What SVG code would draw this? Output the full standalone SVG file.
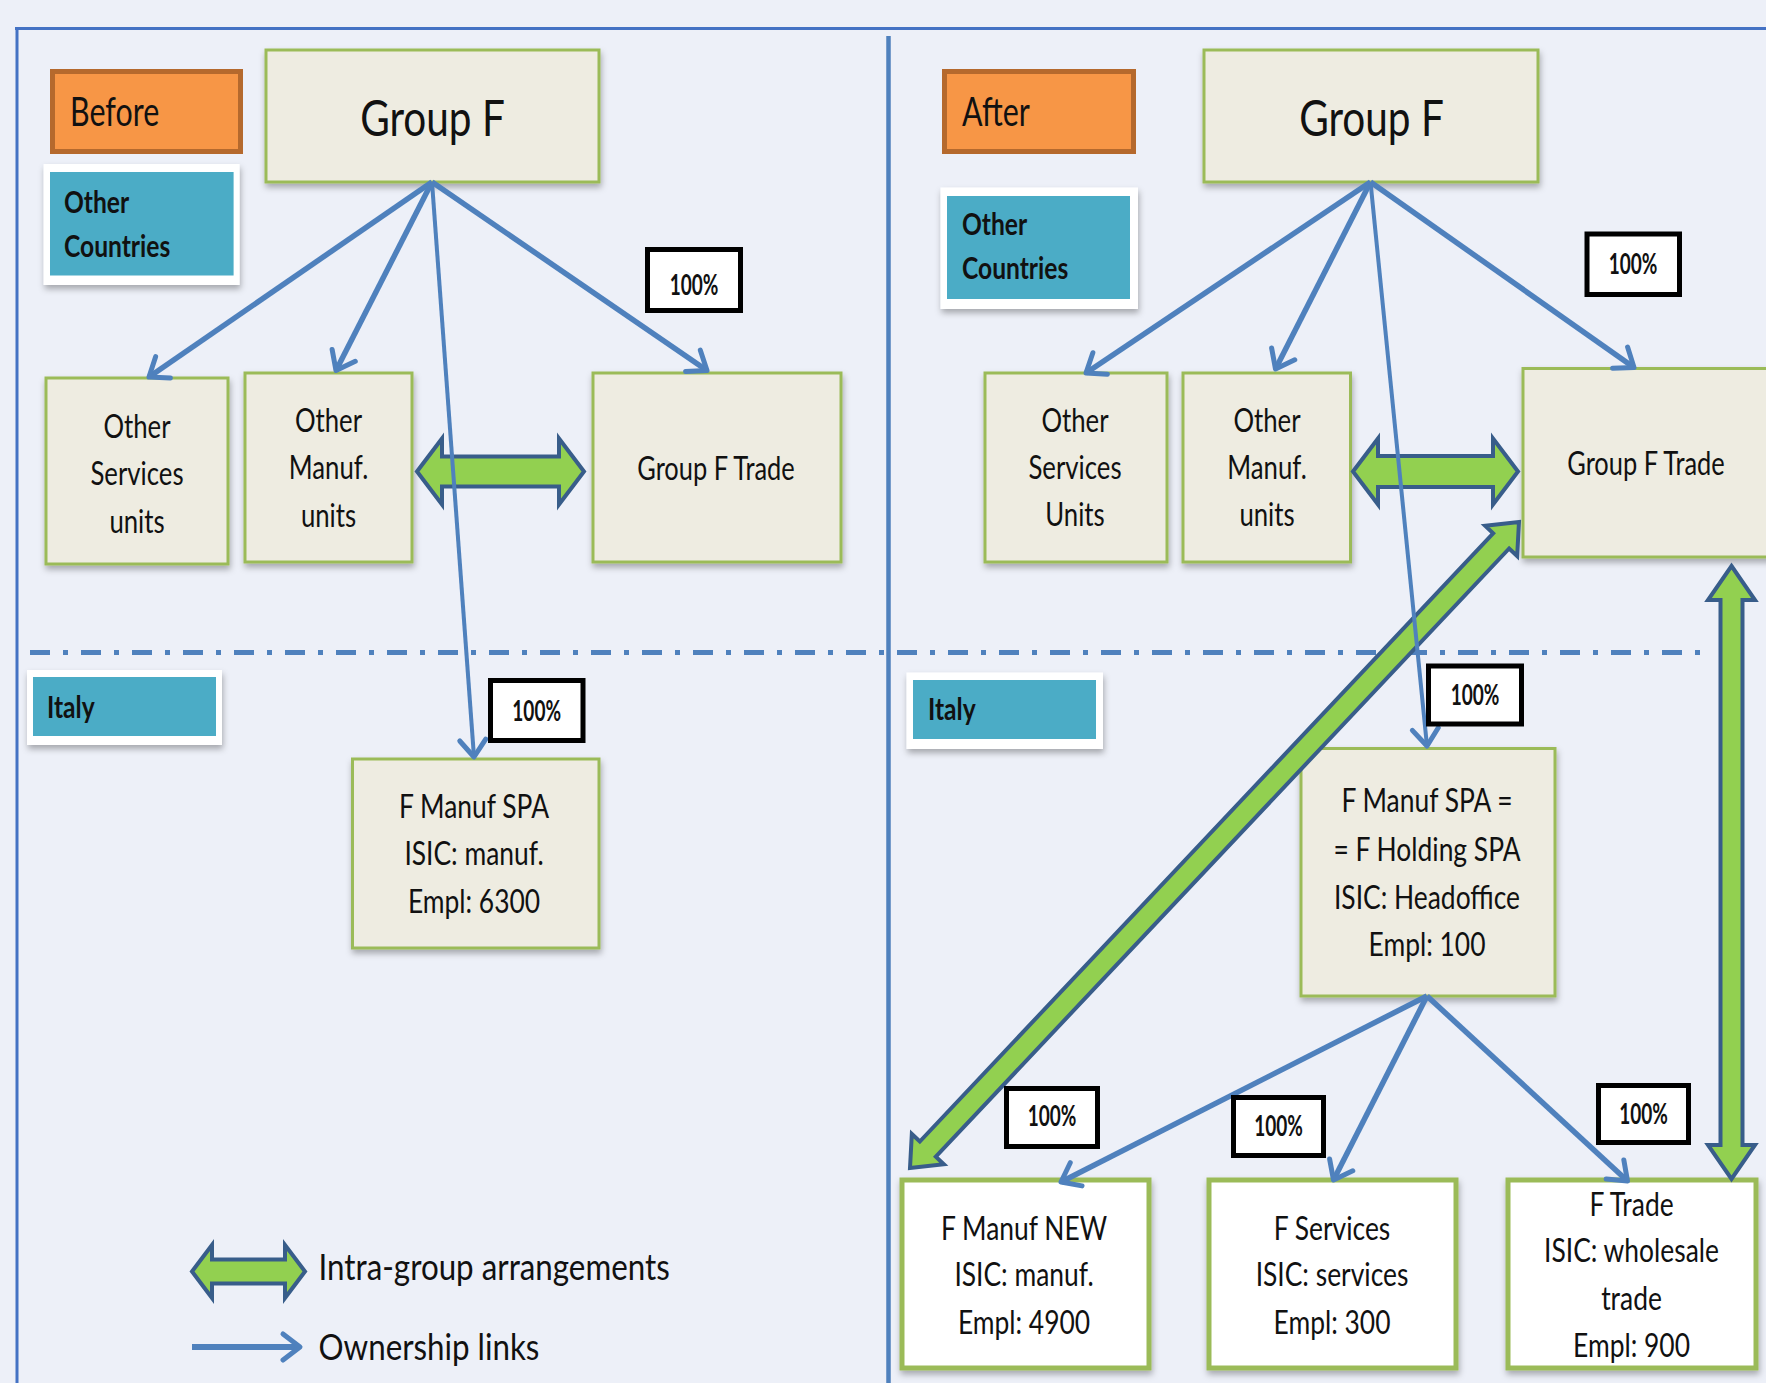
<svg xmlns="http://www.w3.org/2000/svg" width="1766" height="1383" viewBox="0 0 1766 1383">
<style>
.bg{fill:#edf0f8}
.box{fill:#eeece1;stroke:#9bbb59;stroke-width:3;filter:url(#sh)}
.wbox{fill:#ffffff;stroke:#9bbb59;stroke-width:5;filter:url(#sh)}
.tag{fill:#f79646;stroke:#b5692d;stroke-width:5}
.frame{fill:#ffffff;filter:url(#sh)}
.teal{fill:#4bacc6}
.pbox{fill:#ffffff;stroke:#000000;stroke-width:5}
.own{fill:none;stroke:#4f81bd;stroke-width:5.5;marker-end:url(#oh)}
.thin{stroke-width:4}
.legl{stroke-width:6}
.ig{fill:#92d050;stroke:#385d8a;stroke-width:4;stroke-linejoin:miter}
text{font-family:Lato,"Open Sans","Liberation Sans",sans-serif;fill:#111111}
.lbl{font-size:33px}
.big{font-size:50px}
.tg{font-size:40px}
.cty{font-size:30px;font-weight:bold}
.pct{font-size:28px;font-weight:bold}
.leg{font-size:36px}
</style>
<defs>
<filter id="sh" x="-10%" y="-10%" width="125%" height="130%">
<feDropShadow dx="1" dy="4" stdDeviation="3" flood-color="#000000" flood-opacity="0.3"/>
</filter>
<marker id="oh" viewBox="-24 -18 30 36" refX="0" refY="0" markerWidth="30" markerHeight="36" markerUnits="userSpaceOnUse" orient="auto">
<path d="M-17,-13 L0,0 L-17,13" fill="none" stroke="#4f81bd" stroke-width="5" stroke-linecap="round" stroke-linejoin="round"/>
</marker>
</defs>
<rect class="bg" x="0" y="0" width="1766" height="1383"/>

<g id="frame-lines">
<line x1="15" y1="28.5" x2="1766" y2="28.5" stroke="#4472c4" stroke-width="3"/>
<line x1="17" y1="27" x2="17" y2="1383" stroke="#4472c4" stroke-width="3"/>
<line x1="888.5" y1="36" x2="888.5" y2="1383" stroke="#4f81bd" stroke-width="4.5"/>
<line x1="30" y1="652.5" x2="1706" y2="652.5" stroke="#4f81bd" stroke-width="5" stroke-dasharray="20 13 5 13"/>
</g>

<!-- LEFT PANEL NODES -->
<g id="before-tag">
<rect class="tag" x="52.5" y="71.5" width="188" height="80"/>
<text class="tg" transform="translate(70,0) scale(0.76,1)" x="0" y="126">Before</text>
</g>
<g id="other-countries-left">
<rect class="frame" x="43.6" y="164" width="196" height="121"/>
<rect class="teal" x="50" y="172" width="183.6" height="103.5"/>
<text class="cty" transform="translate(64,0) scale(0.82,1)"><tspan x="0" y="213.5">Other</tspan><tspan x="0" y="257">Countries</tspan></text>
</g>
<g id="italy-left">
<rect class="frame" x="27" y="670" width="195" height="75"/>
<rect class="teal" x="33" y="677" width="183" height="59"/>
<text class="cty" transform="translate(47,0) scale(0.82,1)" x="0" y="718">Italy</text>
</g>
<g id="groupf-left">
<rect class="box" x="266" y="50" width="333" height="132"/>
<text class="big" text-anchor="middle" transform="translate(432.5,0) scale(0.81,1)" x="0" y="136">Group F</text>
</g>
<g id="other-services-left">
<rect class="box" x="46" y="378" width="182" height="186"/>
<text class="lbl" text-anchor="middle" transform="translate(137,0) scale(0.78,1)"><tspan x="0" y="438">Other</tspan><tspan x="0" y="485.5">Services</tspan><tspan x="0" y="533">units</tspan></text>
</g>
<g id="other-manuf-left">
<rect class="box" x="245" y="373" width="167" height="189"/>
<text class="lbl" text-anchor="middle" transform="translate(328.5,0) scale(0.78,1)"><tspan x="0" y="432.5">Other</tspan><tspan x="0" y="479.5">Manuf.</tspan><tspan x="0" y="527">units</tspan></text>
</g>
<g id="groupf-trade-left">
<rect class="box" x="593" y="373" width="248" height="189"/>
<text class="lbl" text-anchor="middle" transform="translate(716,0) scale(0.77,1)" x="0" y="480">Group F Trade</text>
</g>
<g id="fmanuf-spa-left">
<rect class="box" x="352.5" y="759" width="246.5" height="189"/>
<text class="lbl" text-anchor="middle" transform="translate(474,0) scale(0.8,1)"><tspan x="0" y="818">F Manuf SPA</tspan><tspan x="0" y="865.5">ISIC: manuf.</tspan><tspan x="0" y="913">Empl: 6300</tspan></text>
</g>

<!-- RIGHT PANEL NODES -->
<g id="after-tag">
<rect class="tag" x="944.5" y="71.5" width="189" height="80"/>
<text class="tg" transform="translate(962,0) scale(0.76,1)" x="0" y="126">After</text>
</g>
<g id="other-countries-right">
<rect class="frame" x="940.5" y="187.5" width="197.5" height="121.5"/>
<rect class="teal" x="947" y="196" width="183" height="103"/>
<text class="cty" transform="translate(962,0) scale(0.82,1)"><tspan x="0" y="235.5">Other</tspan><tspan x="0" y="279.5">Countries</tspan></text>
</g>
<g id="italy-right">
<rect class="frame" x="906.5" y="672.5" width="196.5" height="76.5"/>
<rect class="teal" x="913" y="680" width="183" height="59"/>
<text class="cty" transform="translate(928,0) scale(0.82,1)" x="0" y="720">Italy</text>
</g>
<g id="groupf-right">
<rect class="box" x="1204" y="50" width="334" height="132"/>
<text class="big" text-anchor="middle" transform="translate(1371.5,0) scale(0.81,1)" x="0" y="136">Group F</text>
</g>
<g id="other-services-right">
<rect class="box" x="985" y="373" width="182" height="189"/>
<text class="lbl" text-anchor="middle" transform="translate(1075,0) scale(0.78,1)"><tspan x="0" y="432.5">Other</tspan><tspan x="0" y="479">Services</tspan><tspan x="0" y="526">Units</tspan></text>
</g>
<g id="other-manuf-right">
<rect class="box" x="1183" y="373" width="167.5" height="189"/>
<text class="lbl" text-anchor="middle" transform="translate(1267,0) scale(0.78,1)"><tspan x="0" y="432.5">Other</tspan><tspan x="0" y="479">Manuf.</tspan><tspan x="0" y="526">units</tspan></text>
</g>
<g id="groupf-trade-right">
<rect class="box" x="1523" y="368.5" width="270" height="188.5"/>
<text class="lbl" text-anchor="middle" transform="translate(1646,0) scale(0.77,1)" x="0" y="475">Group F Trade</text>
</g>
<g id="fmanuf-spa-right">
<rect class="box" x="1301" y="748.5" width="254" height="247.5"/>
<text class="lbl" text-anchor="middle" transform="translate(1427,0) scale(0.8,1)"><tspan x="0" y="812.5">F Manuf SPA =</tspan><tspan x="0" y="861">= F Holding SPA</tspan><tspan x="0" y="909">ISIC: Headoffice</tspan><tspan x="0" y="956">Empl: 100</tspan></text>
</g>
<g id="fmanuf-new">
<rect class="wbox" x="902" y="1180" width="247" height="188"/>
<text class="lbl" text-anchor="middle" transform="translate(1024,0) scale(0.8,1)"><tspan x="0" y="1240">F Manuf NEW</tspan><tspan x="0" y="1286">ISIC: manuf.</tspan><tspan x="0" y="1334">Empl: 4900</tspan></text>
</g>
<g id="fservices">
<rect class="wbox" x="1209" y="1180" width="247" height="188"/>
<text class="lbl" text-anchor="middle" transform="translate(1332,0) scale(0.8,1)"><tspan x="0" y="1240">F Services</tspan><tspan x="0" y="1286">ISIC: services</tspan><tspan x="0" y="1334">Empl: 300</tspan></text>
</g>
<g id="ftrade">
<rect class="wbox" x="1508" y="1180" width="248" height="188"/>
<text class="lbl" text-anchor="middle" transform="translate(1631.5,0) scale(0.8,1)"><tspan x="0" y="1216">F Trade</tspan><tspan x="0" y="1262.5">ISIC: wholesale</tspan><tspan x="0" y="1310">trade</tspan><tspan x="0" y="1357.5">Empl: 900</tspan></text>
</g>

<!-- CONNECTORS -->
<g id="connectors">
<path class="ig" d="M417,471.5 L442,438.5 L442,456.5 L559,456.5 L559,438.5 L584,471.5 L559,504.5 L559,486.5 L442,486.5 L442,504.5 Z"/>
<path class="ig" d="M1353,471.5 L1378,438.5 L1378,456 L1493,456 L1493,438.5 L1518,471.5 L1493,504.5 L1493,487 L1378,487 L1378,504.5 Z"/>
<path class="ig" d="M1731.5,566 L1755,600 L1742.5,600 L1742.5,1145 L1755,1145 L1731.5,1179 L1708,1145 L1720.5,1145 L1720.5,600 L1708,600 Z"/>
<path class="ig" transform="translate(910,1168) rotate(-46.69)" d="M0,0 L26,-22 L26,-11 L861.8,-11 L861.8,-22 L887.8,0 L861.8,22 L861.8,11 L26,11 L26,22 Z"/>

<line class="own" x1="432" y1="182" x2="149" y2="377"/>
<line class="own" x1="432" y1="182" x2="336" y2="370.5"/>
<line class="own" x1="432" y1="182" x2="707" y2="370.5"/>
<line class="own thin" x1="432" y1="182" x2="474" y2="757"/>

<line class="own" x1="1370.5" y1="182" x2="1086" y2="373"/>
<line class="own" x1="1370.5" y1="182" x2="1275.5" y2="369"/>
<line class="own" x1="1370.5" y1="182" x2="1634" y2="367.5"/>
<line class="own thin" x1="1370.5" y1="182" x2="1427" y2="746"/>
<line class="own" x1="1427" y1="996" x2="1061" y2="1182"/>
<line class="own" x1="1427" y1="996" x2="1333.5" y2="1180"/>
<line class="own" x1="1427" y1="996" x2="1627.5" y2="1181"/>
</g>

<!-- PERCENT LABELS -->
<g id="pct-left-top">
<rect class="pbox" x="647.5" y="249.5" width="93" height="61"/>
<text class="pct" text-anchor="middle" transform="translate(694,0) scale(0.68,1)" x="0" y="295">100%</text>
</g>
<g id="pct-left-italy">
<rect class="pbox" x="490.5" y="680.5" width="92.5" height="60"/>
<text class="pct" text-anchor="middle" transform="translate(536.7,0) scale(0.68,1)" x="0" y="721">100%</text>
</g>
<g id="pct-right-top">
<rect class="pbox" x="1587" y="234" width="92.5" height="60.5"/>
<text class="pct" text-anchor="middle" transform="translate(1633,0) scale(0.68,1)" x="0" y="274">100%</text>
</g>
<g id="pct-right-spa">
<rect class="pbox" x="1428.5" y="666" width="93" height="58"/>
<text class="pct" text-anchor="middle" transform="translate(1475,0) scale(0.68,1)" x="0" y="705">100%</text>
</g>
<g id="pct-new">
<rect class="pbox" x="1006.5" y="1088.5" width="91" height="58"/>
<text class="pct" text-anchor="middle" transform="translate(1052,0) scale(0.68,1)" x="0" y="1126">100%</text>
</g>
<g id="pct-services">
<rect class="pbox" x="1233.5" y="1097.5" width="90" height="58"/>
<text class="pct" text-anchor="middle" transform="translate(1278.5,0) scale(0.68,1)" x="0" y="1136">100%</text>
</g>
<g id="pct-trade">
<rect class="pbox" x="1598.5" y="1085.5" width="90" height="57"/>
<text class="pct" text-anchor="middle" transform="translate(1643.5,0) scale(0.68,1)" x="0" y="1124">100%</text>
</g>

<!-- LEGEND -->
<g id="legend">
<path class="ig" d="M192,1271.5 L212,1245 L212,1259.5 L285,1259.5 L285,1245 L305,1271.5 L285,1298 L285,1283.5 L212,1283.5 L212,1298 Z"/>
<text class="leg" transform="translate(318.5,0) scale(0.87,1)" x="0" y="1280">Intra-group arrangements</text>
<line class="own legl" x1="192" y1="1347" x2="300" y2="1347"/>
<text class="leg" transform="translate(318.5,0) scale(0.87,1)" x="0" y="1360">Ownership links</text>
</g>
</svg>
